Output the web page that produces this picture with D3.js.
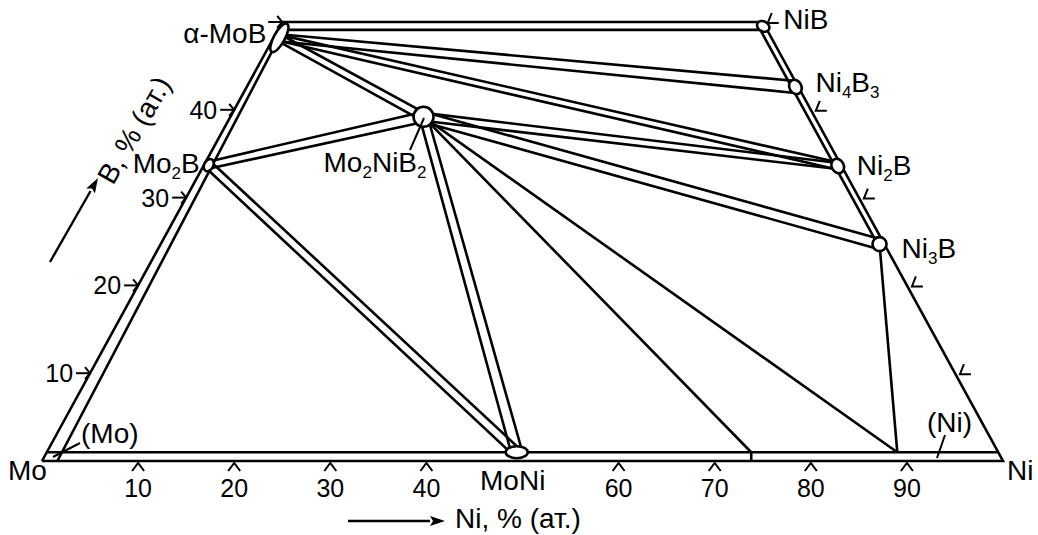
<!DOCTYPE html>
<html>
<head>
<meta charset="utf-8">
<script src="https://cdn.jsdelivr.net/npm/d3@7"></script>
<style>
body { margin: 0; background: #fff; }
text { font-family: "Liberation Sans", Arial, sans-serif; font-size: 28px; fill: #000; }
text.num { font-size: 25px; }
</style>
</head>
<body>
<svg id="chart" width="1038" height="535"></svg>
<script>
/*********************
	Data (compositions in at.%)
**********************/
var phaseNames = ["α-MoB", "Mo2B", "Mo2NiB2", "MoNi", "NiB", "Ni4B3", "Ni2B", "Ni3B"];
var phaseNi    = [0.6,     0.5,    20.1,      48.9,   50.3,  57.1,    66.0,   74.8];
var phaseB     = [48.2,    33.7,   39.2,      1.0,    49.5,  42.6,    33.6,   24.7];

// two-phase bands (drawn as a pair of lines)
var bandFrom = ["α-MoB", "α-MoB", "α-MoB",   "Mo2B",    "Mo2B", "Mo2NiB2", "Mo2NiB2", "Mo2NiB2"];
var bandTo   = ["Ni4B3", "Ni2B",  "Mo2NiB2", "Mo2NiB2", "MoNi", "MoNi",    "Ni2B",    "Ni3B"];

// single tie lines: phase -> point on the (Mo)-(Ni) solid solution
var tieFrom = ["Mo2NiB2", "Mo2NiB2", "Ni3B"];
var tieNi   = [73.3, 88.5, 88.5];
var tieB    = [1.0, 1.0, 1.0];

// boundary lines, [Ni, B] pairs
var outerEdge  = [[0, 0], [100, 0], [50, 50], [0, 50], [0, 0]];
var innerLeft  = [[1.6, 0], [0.6, 47]];
var innerBot   = [[0, 1], [99, 1]];
var innerTop   = [[0.9, 49.1], [50.3, 49.1]];
var innerRight = [[49.8, 49.5], [74.6, 24.7]];
var stepLine   = [[73.3, 1], [73.8, 0]];

// ticks
var niTicks = [10, 20, 30, 40, 60, 70, 80, 90];
var bTicks = [10, 20, 30, 40, 50];
var bTickLabels = [10, 20, 30, 40];

/*********************
	Styles
**********************/
var marks = {
	"α-MoB":   {rx: 16, ry: 5.5, rot: -61.3, label: [{t: "α-MoB"}], dx: -13, dy: 5, anchor: "end"},
	"Mo2B":    {rx: 6.5, ry: 4.5, rot: -61.3, label: [{t: "Mo"}, {t: "2", sub: true}, {t: "B"}], dx: -9, dy: 8, anchor: "end"},
	"Mo2NiB2": {rx: 10, ry: 10, rot: 0, label: [{t: "Mo"}, {t: "2", sub: true}, {t: "NiB"}, {t: "2", sub: true}], dx: 3, dy: 55, anchor: "end"},
	"MoNi":    {rx: 11, ry: 6, rot: 0, label: [{t: "MoNi"}], dx: -4, dy: 38, anchor: "middle"},
	"NiB":     {rx: 6.5, ry: 5, rot: 30, label: [{t: "NiB"}], dx: 20, dy: 3, anchor: "start"},
	"Ni4B3":   {rx: 7.5, ry: 6, rot: 61.3, label: [{t: "Ni"}, {t: "4", sub: true}, {t: "B"}, {t: "3", sub: true}], dx: 20, dy: 5, anchor: "start"},
	"Ni2B":    {rx: 7.5, ry: 6, rot: 61.3, label: [{t: "Ni"}, {t: "2", sub: true}, {t: "B"}], dx: 19, dy: 9, anchor: "start"},
	"Ni3B":    {rx: 7, ry: 7, rot: 0, label: [{t: "Ni"}, {t: "3", sub: true}, {t: "B"}], dx: 22, dy: 14, anchor: "start"}
};
// half widths of each band at its two ends
var bandHalf = [[3.5, 6], [3, 3.5], [3.5, 4], [3.5, 5], [4, 4.5], [4, 5.5], [4, 3], [5, 5]];
var LINE_W = 2.6;

/*********************
	Scales / projection
**********************/
var svg = d3.select("#chart");
svg.append("rect").attr("width", 1038).attr("height", 535).attr("fill", "#fff");

var sx = d3.scaleLinear().domain([0, 100]).range([42, 1003]);
var sy = d3.scaleLinear().domain([0, 100]).range([461, -417]);

function proj(ni, b) {
	return [sx(ni + b / 2), sy(b)];
}
function phasePt(name) {
	var i = phaseNames.indexOf(name);
	return proj(phaseNi[i], phaseB[i]);
}

var line = d3.line();
var g = svg.append("g")
	.attr("fill", "none")
	.attr("stroke", "#000")
	.attr("stroke-width", LINE_W);

function drawPath(pts) {
	g.append("path").attr("d", line(pts.map(function(p) { return proj(p[0], p[1]); })));
}

// edges
[outerEdge, innerLeft, innerBot, innerTop, innerRight, stepLine].forEach(drawPath);

// single tie lines
tieFrom.forEach(function(name, i) {
	g.append("path").attr("d", line([phasePt(name), proj(tieNi[i], tieB[i])]));
});

// bands
bandFrom.forEach(function(a, i) {
	var p = phasePt(a), q = phasePt(bandTo[i]);
	var dx = q[0] - p[0], dy = q[1] - p[1];
	var len = Math.sqrt(dx * dx + dy * dy);
	var nx = -dy / len, ny = dx / len;
	var w0 = bandHalf[i][0], w1 = bandHalf[i][1];
	[1, -1].forEach(function(s) {
		g.append("path").attr("d", line([
			[p[0] + s * nx * w0, p[1] + s * ny * w0],
			[q[0] + s * nx * w1, q[1] + s * ny * w1]
		]));
	});
});

// phase ellipses
phaseNames.forEach(function(name) {
	var p = phasePt(name), m = marks[name];
	svg.append("ellipse")
		.attr("transform", "translate(" + p[0] + "," + p[1] + ") rotate(" + m.rot + ")")
		.attr("rx", m.rx).attr("ry", m.ry)
		.attr("fill", "#fff").attr("stroke", "#000").attr("stroke-width", LINE_W);
});

// leader lines
var leaders = [[[424, 118], [410, 150]], [[80, 443], [53, 457]], [[945, 435], [937, 458]]];
leaders.forEach(function(l) {
	svg.append("path").attr("d", line(l)).attr("stroke", "#000").attr("stroke-width", 2).attr("fill", "none");
});

/*********************
	Ticks
**********************/
var tk = svg.append("g").attr("fill", "none").attr("stroke", "#000").attr("stroke-width", 2);

niTicks.forEach(function(v) {
	var p = proj(v, 0);
	tk.append("path").attr("d", line([[p[0] - 6, p[1] + 10], [p[0], p[1] + 2], [p[0] + 6, p[1] + 10]]));
	svg.append("text").attr("class", "num").attr("x", p[0]).attr("y", p[1] + 36).attr("text-anchor", "middle").text(v);
});

bTicks.forEach(function(v) {
	var p = proj(0, v);
	tk.append("path").attr("d", line([[p[0] - 14, p[1]], [p[0], p[1]]]));
	tk.append("path").attr("d", line([[p[0] - 5, p[1] - 6], [p[0], p[1]], [p[0] - 5, p[1] + 6]]));
	var q = proj(100 - v, v);
	var c = [q[0] + 5, q[1] + 1];
	tk.append("path").attr("d", line([[c[0] + 11, c[1]], c, [c[0] + 4, c[1] - 10]]));
});

bTickLabels.forEach(function(v) {
	var p = proj(0, v);
	svg.append("text").attr("class", "num").attr("x", p[0] - 17).attr("y", p[1] + 9).attr("text-anchor", "end").text(v);
});

/*********************
	Labels
**********************/
phaseNames.forEach(function(name) {
	var p = phasePt(name), m = marks[name];
	var t = svg.append("text")
		.attr("x", p[0] + m.dx).attr("y", p[1] + m.dy)
		.attr("text-anchor", m.anchor);
	var shifted = false;
	m.label.forEach(function(part) {
		var ts = t.append("tspan").text(part.t);
		if (part.sub && !shifted) { ts.attr("dy", 6).style("font-size", "17px"); shifted = true; }
		else if (part.sub) { ts.style("font-size", "17px"); }
		else if (shifted) { ts.attr("dy", -6); shifted = false; }
	});
});

var mo = proj(0, 0), ni = proj(100, 0);
svg.append("text").attr("x", mo[0] - 34).attr("y", mo[1] + 19).text("Mo");
svg.append("text").attr("x", ni[0] + 4).attr("y", ni[1] + 19).text("Ni");
svg.append("text").attr("x", 81).attr("y", 443).text("(Mo)");
svg.append("text").attr("x", 927).attr("y", 432).text("(Ni)");

// axis titles with arrows
function arrow(x1, y1, x2, y2) {
	var dx = x2 - x1, dy = y2 - y1, len = Math.sqrt(dx * dx + dy * dy);
	var ux = dx / len, uy = dy / len;
	var bx = x2 - ux * 15, by = y2 - uy * 15;
	svg.append("path").attr("d", line([[x1, y1], [bx, by]])).attr("stroke", "#000").attr("stroke-width", 2.4);
	svg.append("path")
		.attr("d", line([[x2, y2], [bx - uy * 5, by + ux * 5], [bx + ux * 3, by + uy * 3], [bx + uy * 5, by - ux * 5]]) + "Z")
		.attr("fill", "#000");
}
arrow(348, 521, 445, 521);
svg.append("text").attr("x", 455).attr("y", 528).text("Ni, % (ат.)");

arrow(50, 262, 98, 178);
svg.append("text")
	.attr("transform", "translate(113,186) rotate(-60)")
	.text("B, % (ат.)");
</script>
</body>
</html>
